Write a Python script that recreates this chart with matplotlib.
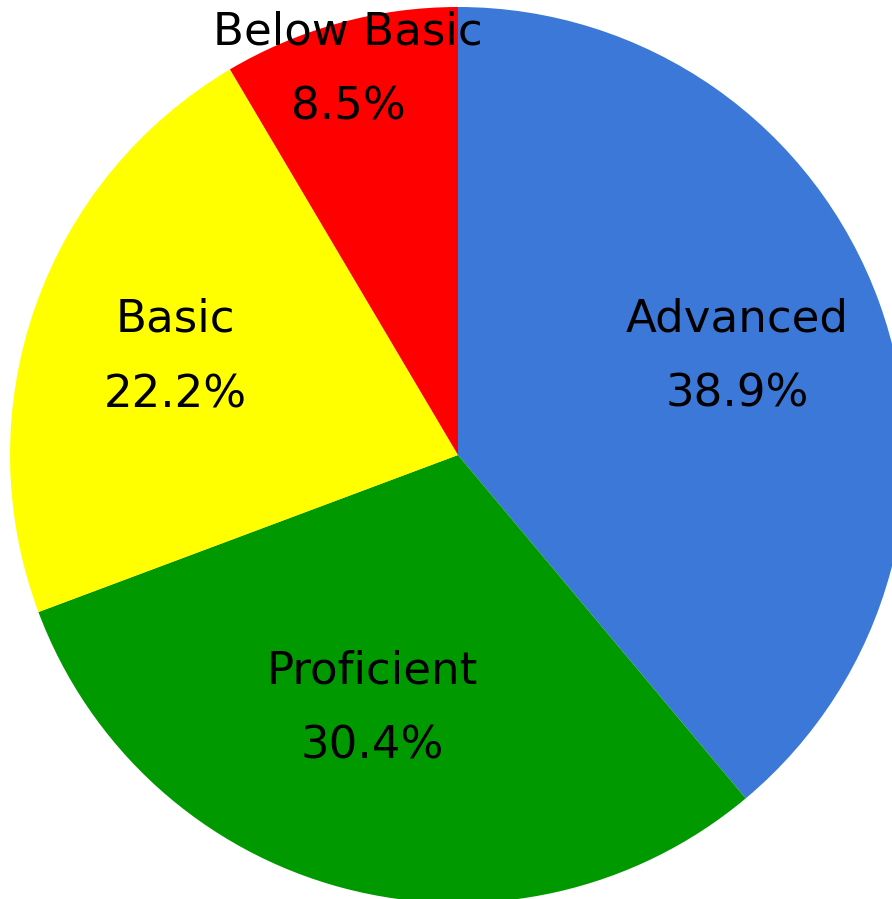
import numpy as np
import matplotlib.pyplot as plt

# data
categories = ['Advanced', 'Proficient', 'Basic', 'Below Basic']
percents = [38.9, 30.4, 22.2, 8.5]
colors = ['#3c78d8', '#009900', '#ffff00', '#ff0000']

# label placement: fraction of radius, angle nudge (deg)
label_dist = [0.66, 0.597, 0.668, 0.895]
label_nudge = [-0.5, -4, 0.3, 0.6]

fig = plt.figure(figsize=(8.92, 8.99), dpi=100)
ax = fig.add_axes([0, 0, 1, 1])

cx, cy, r = 458, 899 - 455, 448
wedges, _ = ax.pie(percents, colors=colors, startangle=90, counterclock=False,
                   center=(cx, cy), radius=r, frame=True,
                   wedgeprops=dict(linewidth=0))

for w, name, p, d, n in zip(wedges, categories, percents, label_dist, label_nudge):
    ang = np.deg2rad((w.theta1 + w.theta2) / 2 + n)
    x = cx + d * r * np.cos(ang)
    y = cy + d * r * np.sin(ang)
    ax.text(x, y, name + '\n' + f'{p:.1f}%', ha='center', va='center',
            fontsize=32.5, linespacing=1.95, color='black')

ax.set_xlim(0, 892)
ax.set_ylim(0, 899)
ax.set_aspect('equal')
ax.axis('off')

fig.savefig('out.png', dpi=100)
